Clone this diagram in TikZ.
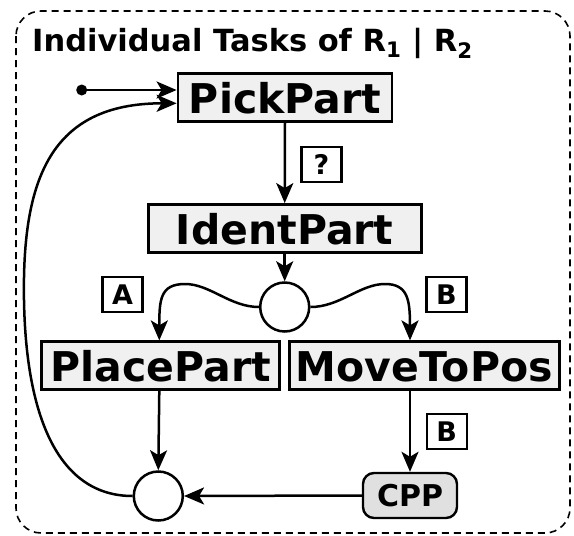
\documentclass[tikz,border=0pt]{standalone}
\usepackage{fontspec}
\setmainfont{DejaVu Sans}
\usetikzlibrary{arrows.meta,calc}
\begin{document}
\begin{tikzpicture}[x=1pt,y=-1pt,
  task/.style={draw=black, line width=2.8pt, fill=black!6, minimum height=48pt, inner sep=0pt,
    font=\fontsize{41}{41}\selectfont\bfseries, text height=31pt, text depth=0pt},
  lbl/.style={draw=black, line width=2.4pt, fill=white, minimum width=40pt, minimum height=35pt, inner sep=0pt,
    font=\fontsize{27}{27}\selectfont\bfseries, text height=19.7pt, text depth=0pt},
  junc/.style={circle, draw=black, line width=2.5pt, minimum size=49pt, inner sep=0pt, fill=white},
  conn/.style={line width=2.5pt, -{Stealth[length=20pt,width=17pt,inset=5pt]}},
  frame/.style={draw=black, line width=1.6pt, dash pattern=on 7pt off 5pt, rounded corners=25pt},
]
\useasboundingbox (0,0) rectangle (574,536);
\draw[frame] (16,11) rectangle (570,533);
\node[anchor=base west, inner sep=0pt, font=\fontsize{30.5}{30.5}\selectfont\bfseries] (title) at (32,51)
  {Individual Tasks of R\textsubscript{1} | R\textsubscript{2}};

\node[task, minimum width=214pt] (pick) at (285,97.7) {PickPart};
\node[task, minimum width=273pt] (ident) at (284.7,228.5) {IdentPart};
\node[junc] (c1) at (284.7,307) {};
\node[task, minimum width=238pt] (place) at (160.7,365.8) {PlacePart};
\node[task, minimum width=270pt] (move) at (424.2,365.8) {MoveToPos};
\node[junc] (c2) at (158.3,496) {};
\node[draw=black, line width=2.4pt, fill=black!12, rounded corners=11pt, minimum width=94pt, minimum height=45pt,
  inner sep=0pt, font=\fontsize{30}{30}\selectfont\bfseries, text height=22pt, text depth=0pt] (cpp) at (410,495.5) {CPP};

\node[lbl] (q) at (321.5,164.5) {?};
\node[lbl] (la) at (122.5,294.7) {A};
\node[lbl] (lb1) at (446.3,294.3) {B};
\node[lbl] (lb2) at (446.7,431.3) {B};

\coordinate (start) at (81.7,90);
\fill (start) circle (5.5pt);
\draw[conn] (start) -- (start -| pick.west);
\draw[conn] (c2.west) .. controls (60,496) and (26,420) .. (24,300)
  .. controls (22,180) and (50,103.3) .. ($(pick.west)+(0,5.6)$);
\draw[conn] (pick.south) -- (ident.north);
\draw[conn] (ident.south) -- (c1.north);
\draw[conn] (c1.west) .. controls (230,307) and (210,284) .. (185,284)
  .. controls (160,284) and (159.3,300) .. (place.north -| 159.3,0);
\draw[conn] (c1.east) .. controls (340,307) and (360,284) .. (385,284)
  .. controls (408,284) and (410,300) .. (move.north -| cpp.north);
\draw[conn] (place.south -| 159.3,0) -- (c2.north);
\draw[conn] (move.south -| cpp.north) -- (cpp.north);
\draw[conn] (cpp.west) -- (c2.east);
\end{tikzpicture}
\end{document}
